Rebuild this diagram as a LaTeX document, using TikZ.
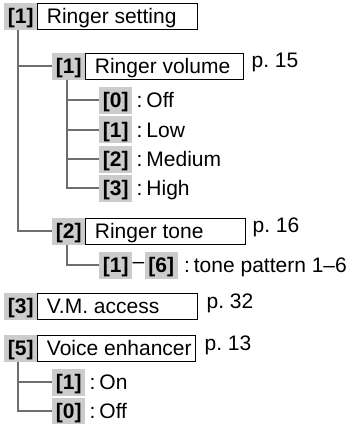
\documentclass[tikz,border=0pt]{standalone}
\usepackage{fontspec}
\setmainfont{Liberation Sans}
\usetikzlibrary{positioning}

\definecolor{keygray}{RGB}{204,204,204}
\definecolor{linegray}{RGB}{110,110,110}
\newcommand{\menufont}{\fontsize{21}{25}\selectfont}

\tikzset{
  key/.style={fill=keygray, font=\menufont\bfseries, inner sep=0pt, minimum width=33pt,
    minimum height=27pt, text height=17.5pt, text depth=2.5pt},
  menubox/.style={draw=black, line width=1pt, inner xsep=9pt, inner ysep=0pt,
    minimum height=26pt, text height=17.5pt, text depth=2.5pt},
  note/.style={inner xsep=4pt, inner ysep=0pt, text height=17.5pt, text depth=2.5pt},
  pageref/.style={anchor=base west, inner sep=0pt},
  branch/.style={draw=linegray, line width=2pt}
}

\begin{document}
\begin{tikzpicture}[x=1pt, y=-1pt, font=\menufont]
	\useasboundingbox (0,0) rectangle (350,424);
	
	%RINGER SETTING
	\node[key, anchor=west] (k1) at (4,16) {[1]};
	\node[menubox, right=0pt of k1] (b1) {\makebox[142pt][l]{Ringer setting}};
	
	%volume
	\node[key, anchor=west] (k11) at (52,66) {[1]};
	\node[menubox, right=0pt of k11] (b11) {\makebox[140pt][l]{Ringer volume}};
	\node[pageref] (p11) at ([xshift=7pt, yshift=6pt]b11.base east) {p.~15};
	\foreach \n/\lbl/\y in {0/Off/100, 1/Low/129.5, 2/Medium/159, 3/High/188} {
		\node[key, anchor=west] (v\n) at (99,\y) {[\n]};
		\node[note, right=0pt of v\n] {:\hspace{4pt}\lbl};
		\draw[branch] ([xshift=-2pt]k11.south) |- (v\n.west);
	}
	
	%tone
	\node[key, anchor=west] (k12) at (52,231) {[2]};
	\node[menubox, right=0pt of k12] (b12) {\makebox[142pt][l]{Ringer tone}};
	\node[pageref] (p12) at ([xshift=6pt, yshift=6pt]b12.base east) {p.~16};
	\node[key, anchor=west] (t1) at (99,265) {[1]};
	\node[inner sep=0pt, right=0pt of t1] (dash) {--};
	\node[key, right=0pt of dash] (t6) {[6]};
	\node[note, right=2pt of t6] {:\hspace{4pt}tone pattern 1--6};
	\draw[branch] ([xshift=-2pt]k12.south) |- (t1.west);
	
	%linee
	\draw[branch] ([xshift=-3pt]k1.south) |- (k11.west);
	\draw[branch] ([xshift=-3pt]k1.south) |- (k12.west);
	
	%V.M. ACCESS
	\node[key, anchor=west] (k3) at (4,306) {[3]};
	\node[menubox, right=0pt of k3] (b3) {\makebox[142pt][l]{V.M. access}};
	\node[pageref] (p3) at ([xshift=8pt, yshift=5pt]b3.base east) {p.~32};
	
	%VOICE ENHANCER
	\node[key, anchor=west] (k5) at (4,348) {[5]};
	\node[menubox, right=0pt of k5] (b5) {\makebox[140pt][l]{Voice enhancer}};
	\node[pageref] (p5) at ([xshift=8pt, yshift=5pt]b5.base east) {p.~13};
	\foreach \n/\lbl/\y in {1/On/382, 0/Off/411} {
		\node[key, anchor=west] (e\n) at (52,\y) {[\n]};
		\node[note, right=0pt of e\n] {:\hspace{4pt}\lbl};
		\draw[branch] ([xshift=-3pt]k5.south) |- (e\n.west);
	}
	
\end{tikzpicture}
\end{document}
